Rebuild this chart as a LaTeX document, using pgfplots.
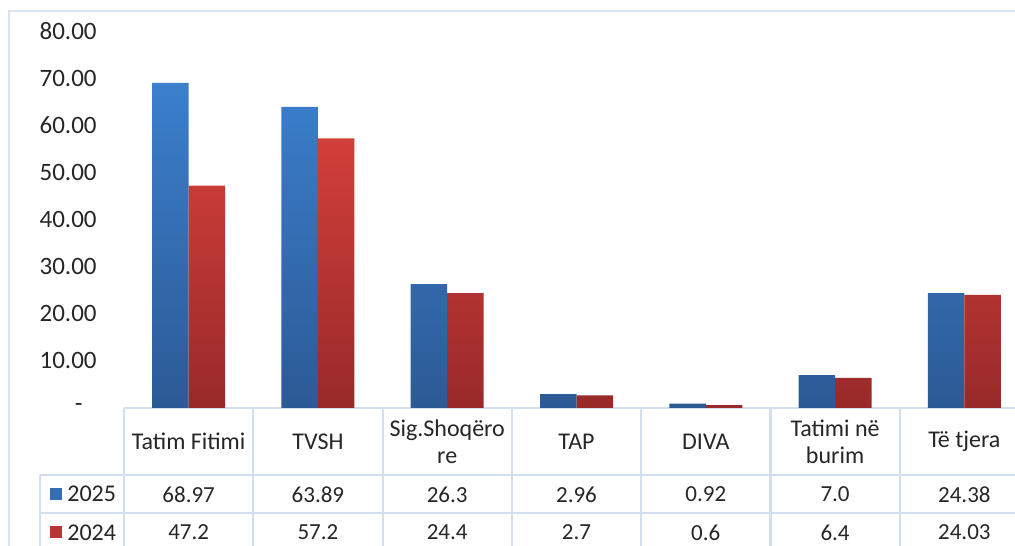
\documentclass[border=0pt]{standalone}
\usepackage{pgfplots}
\pgfplotsset{compat=1.18}
\usepackage{fontspec}
\setmainfont{Carlito}
\definecolor{txt}{HTML}{262626}
\definecolor{gridc}{HTML}{D3DFEF}
\definecolor{framec}{HTML}{D9E3F0}
\definecolor{bluetop}{HTML}{3B7FCD}
\definecolor{bluebot}{HTML}{2C5A95}
\definecolor{redtop}{HTML}{D23F3A}
\definecolor{redbot}{HTML}{982A2A}
\definecolor{bluemid}{HTML}{336DB2}
\definecolor{redmid}{HTML}{B93533}

\begin{document}
\fontsize{11.5}{13.5}\selectfont
\begin{tikzpicture}[font=\fontsize{11.5}{13.5}\selectfont, text=txt]
\begin{scope}[x=0.5pt,y=0.5pt]
  % chart frame
  \draw[framec, line width=1pt] (9,534) rectangle (1060,-30);
  % data table grid
  \draw[gridc, line width=1.1pt] (124,137) -- (1060,137);
  \draw[gridc, line width=1.1pt] (40,70) -- (1060,70);
  \draw[gridc, line width=1.1pt] (40,32) -- (1060,32);
  \draw[gridc, line width=1.1pt] (40,70) -- (40,-30);
  \foreach \k in {0,...,7} {
    \draw[gridc, line width=1.1pt] ({124+129.3*\k},137) -- ({124+129.3*\k},-30);
  }
  % legend keys
  \fill[bluemid] (50,45) rectangle (62,57);
  \fill[redmid] (50,7) rectangle (62,19);
  \node[anchor=west, inner sep=0pt, font=\fontsize{12}{14}\selectfont] at (67,51) {2025};
  \node[anchor=west, inner sep=0pt, font=\fontsize{12}{14}\selectfont] at (67,12.5) {2024};
\end{scope}

\begin{axis}[
  at={(62pt,68.5pt)}, anchor=south west,
  scale only axis, width=452.5pt, height=188.5pt,
  xmin=-0.5, xmax=6.5, ymin=0, ymax=80,
  ybar=0pt, bar width=18.25pt,
  axis line style={draw=none},
  major tick length=0pt,
  ytick={0,10,...,80},
  yticklabels={{-\hspace*{7pt}},10.00,20.00,30.00,40.00,50.00,60.00,70.00,80.00},
  yticklabel style={inner sep=0pt, xshift=-13.5pt, text=txt, font=\fontsize{12.5}{14}\selectfont},
  xtick={0,...,6},
  xticklabels={Tatim Fitimi, TVSH, {Sig.Shoqëro\\re}, TAP, DIVA, {Tatimi në\\burim}, Të tjera},
  xticklabel style={anchor=center, align=center, inner sep=0pt, yshift=-16.75pt, text=txt, font=\fontsize{12}{13.5}\selectfont},
  clip=false,
]
\addplot[draw=none, top color=bluetop, bottom color=bluebot] coordinates {
  (0,68.97) (1,63.89) (2,26.3) (3,2.96) (4,0.92) (5,7.0) (6,24.38)};
\addplot[draw=none, top color=redtop, bottom color=redbot] coordinates {
  (0,47.2) (1,57.2) (2,24.4) (3,2.7) (4,0.6) (5,6.4) (6,24.03)};
% data table values
\foreach \i/\v in {0/68.97,1/63.89,2/26.3,3/2.96,4/0.92,5/7.0,6/24.38} {
  \edef\tmp{\noexpand\node[inner sep=0pt] at (axis cs:\i,-18.35) {\v};}\tmp
}
\foreach \i/\v in {0/47.2,1/57.2,2/24.4,3/2.7,4/0.6,5/6.4,6/24.03} {
  \edef\tmp{\noexpand\node[inner sep=0pt] at (axis cs:\i,-26.4) {\v};}\tmp
}
\end{axis}
\pgfresetboundingbox
\path (0,0) rectangle (507.5pt,272.5pt);
\end{tikzpicture}
\end{document}
